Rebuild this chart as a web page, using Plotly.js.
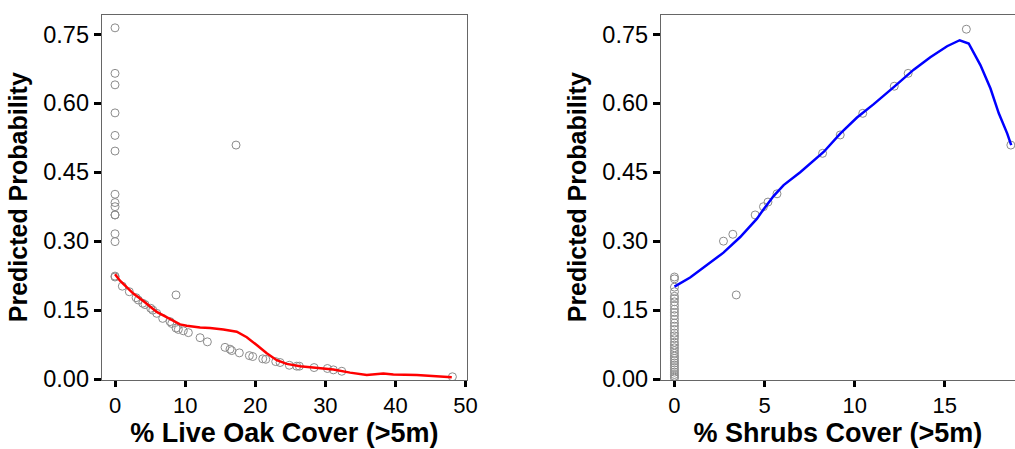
<!DOCTYPE html>
<html>
<head>
<meta charset="utf-8">
<script src="https://cdn.plot.ly/plotly-3.0.1.min.js"></script>
<style>
  html, body { margin: 0; padding: 0; background: #fff; }
  #chart { width: 1015px; height: 449px; }
</style>
</head>
<body>
<div id="chart"></div>
<script>
// Live oak panel: observed points
const oakX = [0, 0, 0, 0, 0, 0, 0, 0, 0, 0, 0, 0, 0, 0, 0,
  1.04, 2.04, 3.0, 3.32, 3.95, 4.28, 5.09, 5.38, 5.95, 6.8, 7.85, 8.09, 8.7, 9.03, 9.74, 10.46,
  12.13, 13.17, 15.69, 16.4, 16.64, 17.73, 19.16, 19.64, 21.07, 21.5, 22.92, 23.54, 24.86,
  25.92, 26.29, 28.39, 30.29, 31.14, 32.34, 48.12, 8.7, 17.26];
const oakY = [0.764, 0.665, 0.640, 0.579, 0.530, 0.496, 0.402, 0.384, 0.375, 0.357, 0.357,
  0.316, 0.299, 0.222, 0.224,
  0.202, 0.190, 0.177, 0.172, 0.165, 0.162, 0.154, 0.150, 0.143, 0.132, 0.125, 0.121, 0.111,
  0.108, 0.105, 0.101, 0.090, 0.081, 0.069, 0.065, 0.062, 0.057, 0.051, 0.049, 0.044, 0.043,
  0.038, 0.036, 0.030, 0.028, 0.028, 0.025, 0.023, 0.020, 0.017, 0.005, 0.183, 0.509];

// Live oak panel: smoothed fit
const oakFitX = [0, 0.71, 2.61, 4.04, 5.95, 7.85, 9.27, 10.23, 12.13, 13.55, 15.45, 17.36,
  18.79, 20.21, 21.64, 23.07, 24.49, 26.39, 28.29, 31.14, 33.52, 35.9, 38.27, 39.7, 43.04,
  45.4, 48.03];
const oakFitY = [0.228, 0.214, 0.186, 0.170, 0.146, 0.130, 0.119, 0.116, 0.112, 0.111, 0.108,
  0.103, 0.091, 0.074, 0.056, 0.041, 0.033, 0.028, 0.025, 0.021, 0.014, 0.009, 0.012, 0.010,
  0.009, 0.007, 0.004];

// Shrubs panel: observed points
const shrubX = [0, 0, 0, 0, 0, 0, 0, 0, 0, 0, 0, 0, 0, 0, 0, 0, 0, 0, 0, 0, 0, 0, 0, 0, 0,
  0, 0, 0, 0, 0, 0, 0, 0, 0,
  2.72, 3.24, 3.43, 4.48, 4.94, 5.19, 5.69, 8.22, 9.2, 10.45, 12.2, 12.97, 16.2, 18.67];
const shrubY = [0.222, 0.218, 0.200, 0.190, 0.180, 0.175, 0.168, 0.160, 0.152, 0.145, 0.138,
  0.130, 0.122, 0.115, 0.108, 0.100, 0.094, 0.088, 0.080, 0.074, 0.068, 0.062, 0.056, 0.050,
  0.045, 0.040, 0.035, 0.030, 0.025, 0.020, 0.015, 0.010, 0.006, 0.002,
  0.300, 0.315, 0.183, 0.357, 0.375, 0.385, 0.403, 0.491, 0.531, 0.578, 0.637, 0.665, 0.761, 0.509];

// Shrubs panel: smoothed fit
const shrubFitX = [0, 0.87, 1.8, 2.72, 3.65, 4.58, 4.94, 5.5, 6.06, 6.98, 8.28, 9.2, 10.13,
  11.06, 12.17, 13.28, 14.2, 15.13, 15.83, 16.33, 16.98, 17.54, 18.0, 18.47, 18.69];
const shrubFitY = [0.201, 0.221, 0.248, 0.275, 0.309, 0.349, 0.369, 0.398, 0.422, 0.450, 0.494,
  0.534, 0.569, 0.598, 0.635, 0.673, 0.700, 0.724, 0.737, 0.730, 0.683, 0.632, 0.578, 0.534, 0.509];

const yTicks = [0, 0.15, 0.30, 0.45, 0.60, 0.75];
const yTickText = ["0.00", "0.15", "0.30", "0.45", "0.60", "0.75"];

const FONT = "Arial, 'Liberation Sans', sans-serif";

const pointStyle = {
  symbol: "circle-open",
  size: 8,
  color: "#8c8c8c",
  line: { width: 1, color: "#8c8c8c" },
};

const traces = [
  { x: oakX, y: oakY, type: "scatter", mode: "markers", marker: pointStyle,
    xaxis: "x", yaxis: "y", hoverinfo: "skip" },
  { x: oakFitX, y: oakFitY, type: "scatter", mode: "lines",
    line: { color: "#ff0000", width: 2.5 }, xaxis: "x", yaxis: "y" },
  { x: shrubX, y: shrubY, type: "scatter", mode: "markers", marker: pointStyle,
    xaxis: "x2", yaxis: "y2", hoverinfo: "skip" },
  { x: shrubFitX, y: shrubFitY, type: "scatter", mode: "lines",
    line: { color: "#0000ff", width: 2.5 }, xaxis: "x2", yaxis: "y2" },
];

function xAxis(domain, range, tickvals, title, anchor) {
  return {
    domain, range, tickvals,
    anchor,
    showgrid: false, zeroline: false,
    showline: true, mirror: true, linecolor: "#666", linewidth: 1,
    ticks: "outside", ticklen: 6, tickwidth: 3, tickcolor: "#000",
    tickfont: { family: FONT, size: 22, color: "#000" },
    title: { text: title, font: { family: FONT, size: 27, color: "#000", weight: "bold" }, standoff: 1 },
  };
}

function yAxis(anchor, mirror) {
  return {
    domain: [0.1537, 0.9677],
    range: [-0.002, 0.793],
    tickvals: yTicks, ticktext: yTickText,
    anchor,
    showgrid: false, zeroline: false,
    showline: true, mirror, linecolor: "#666", linewidth: 1,
    ticks: "outside", ticklen: 7, tickwidth: 3, tickcolor: "#000",
    tickfont: { family: FONT, size: 23.5, color: "#000" },
    title: { text: "Predicted Probability", font: { family: FONT, size: 25, color: "#000", weight: "bold" }, standoff: 8 },
  };
}

const layout = {
  width: 1015,
  height: 449,
  margin: { l: 0, r: 0, t: 0, b: 0 },
  paper_bgcolor: "#fff",
  plot_bgcolor: "#fff",
  showlegend: false,
  xaxis: xAxis([0.1002, 0.4601], [-1.9, 50.2], [0, 10, 20, 30, 40, 50], "% Live Oak Cover (>5m)", "y"),
  yaxis: yAxis("x", true),
  xaxis2: xAxis([0.651, 1.0], [-0.76, 18.9], [0, 5, 10, 15], "% Shrubs Cover (>5m)\u00a0\u00a0\u00a0", "y2"),
  yaxis2: yAxis("x2", false),
};

Plotly.newPlot("chart", traces, layout, { displayModeBar: false, staticPlot: true });
</script>
</body>
</html>
